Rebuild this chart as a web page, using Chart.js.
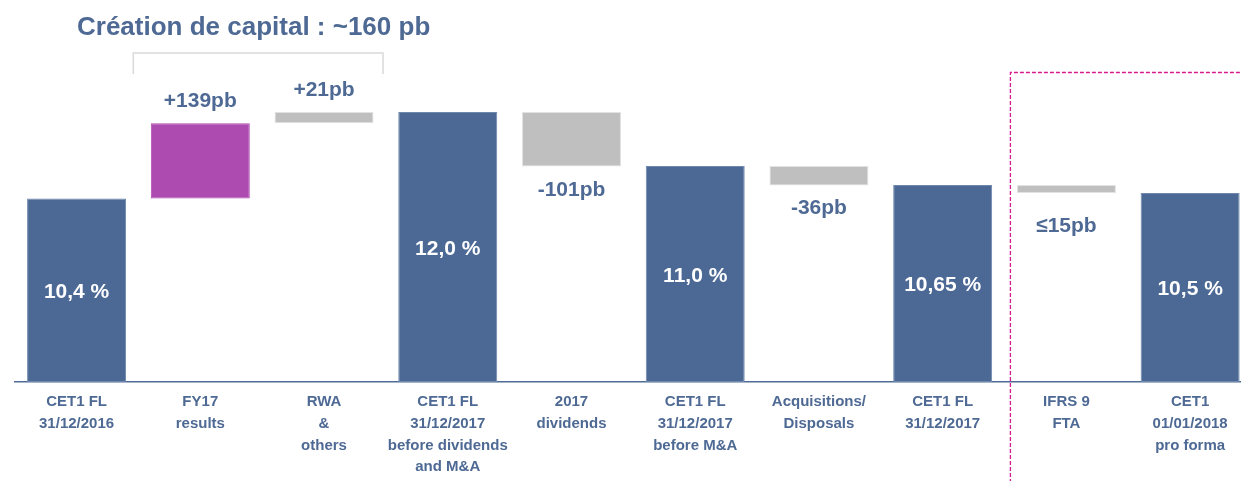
<!DOCTYPE html>
<html lang="fr">
<head>
<meta charset="utf-8">
<title>Création de capital</title>
<script src="https://cdn.jsdelivr.net/npm/chart.js@4.4.1/dist/chart.umd.min.js"></script>
<style>
  html, body { margin: 0; padding: 0; background: #ffffff; overflow: hidden; }
  #wrap { width: 1241px; height: 481px; overflow: hidden; position: relative; }
  canvas { display: block; }
</style>
</head>
<body>
<div id="wrap"><canvas id="chart" width="1252" height="481"></canvas></div>
<script>
// Step names of the CET1 bridge (one line per array entry)
const categories = [
  ['CET1 FL', '31/12/2016'],
  ['FY17', 'results'],
  ['RWA', '&', 'others'],
  ['CET1 FL', '31/12/2017', 'before dividends', 'and M&A'],
  ['2017', 'dividends'],
  ['CET1 FL', '31/12/2017', 'before M&A'],
  ['Acquisitions/', 'Disposals'],
  ['CET1 FL', '31/12/2017'],
  ['IFRS 9', 'FTA'],
  ['CET1', '01/01/2018', 'pro forma']
];

// Ratio levels (%) at each checkpoint; null where the step is a movement
const totalsPct = [10.4, null, null, 12.0, null, 11.0, null, 10.65, null, 10.5];

// Movements in basis points; null where the step is a checkpoint
const changesBp = [null, 139, 21, null, -101, null, -36, null, -15, null];

// Movements that are stated as an upper bound
const upperBoundSteps = [8];

const TITLE = 'Création de capital : ~160 pb';

// Waterfall ranges built from the values above
const ranges = [];
let level = 0;
categories.forEach((_, i) => {
  if (totalsPct[i] !== null) {
    level = totalsPct[i];
    ranges.push([7, level]);
  } else {
    const next = level + changesBp[i] / 100;
    ranges.push([level, next]);
    level = next;
  }
});

const BLUE = '#4C6995';
const PINK = '#AE4BB0';
const GREY = '#BFBFBF';
const TEXT = '#4E6A94';
const FONT = '"Liberation Sans", Arial, sans-serif';

const barColours = categories.map((_, i) =>
  totalsPct[i] !== null ? BLUE : (i === 1 ? PINK : GREY));
const barBorders = categories.map((_, i) =>
  totalsPct[i] !== null ? '#6E88AE' : (i === 1 ? PINK : '#E2E2E2'));

function bpLabel(i) {
  const v = changesBp[i];
  const mag = Math.abs(v);
  if (upperBoundSteps.includes(i)) return '\u2264' + mag + 'pb';
  return (v > 0 ? '+' : '-') + mag + 'pb';
}
function pctLabel(v) {
  return v.toLocaleString('fr-FR', { minimumFractionDigits: 1, maximumFractionDigits: 2 }) + ' %';
}

const decorations = {
  id: 'decorations',
  afterDatasetsDraw(chart) {
    const ctx = chart.ctx;
    const meta = chart.getDatasetMeta(0);
    const x = chart.scales.x;

    ctx.save();
    // title
    ctx.fillStyle = TEXT;
    ctx.font = 'bold 26px ' + FONT;
    ctx.textAlign = 'left';
    ctx.textBaseline = 'alphabetic';
    ctx.fillText(TITLE, 77, 35);

    // bracket grouping the capital-generating steps
    const bl = x.getPixelForValue(1) - 67;
    const br = x.getPixelForValue(2) + 59;
    ctx.strokeStyle = '#D9D9D9';
    ctx.lineWidth = 1.5;
    ctx.beginPath();
    ctx.moveTo(bl, 74);
    ctx.lineTo(bl, 53);
    ctx.lineTo(br, 53);
    ctx.lineTo(br, 74);
    ctx.stroke();

    // dashed frame around the IFRS 9 transition
    const fx = x.getPixelForValue(8) - 56;
    ctx.strokeStyle = '#D81B8C';
    ctx.lineWidth = 1.3;
    ctx.setLineDash([4, 2]);
    ctx.beginPath();
    ctx.moveTo(fx, chart.height + 2);
    ctx.lineTo(fx, 72.5);
    ctx.lineTo(chart.width + 2, 72.5);
    ctx.stroke();
    ctx.setLineDash([]);

    // value labels
    ctx.textAlign = 'center';
    ctx.font = 'bold 21px ' + FONT;
    meta.data.forEach((bar, i) => {
      const top = Math.min(bar.y, bar.base);
      const bottom = Math.max(bar.y, bar.base);
      if (totalsPct[i] !== null) {
        ctx.fillStyle = '#FFFFFF';
        ctx.textBaseline = 'middle';
        ctx.fillText(pctLabel(totalsPct[i]), bar.x, (top + bottom) / 2 + 2);
      } else {
        ctx.fillStyle = TEXT;
        ctx.textBaseline = 'alphabetic';
        if (changesBp[i] > 0) {
          ctx.fillText(bpLabel(i), bar.x, top - 16);
        } else {
          const gap = upperBoundSteps.includes(i) ? 39 : 29;
          ctx.fillText(bpLabel(i), bar.x, bottom + gap);
        }
      }
    });
    ctx.restore();
  }
};

new Chart(document.getElementById('chart'), {
  type: 'bar',
  data: {
    labels: categories,
    datasets: [{
      data: ranges,
      backgroundColor: barColours,
      borderColor: barBorders,
      borderWidth: 1,
      borderSkipped: false,
      categoryPercentage: 0.8,
      barPercentage: 1.0
    }]
  },
  options: {
    responsive: false,
    animation: false,
    devicePixelRatio: 1,
    layout: { padding: { left: 14.7, right: 0, top: 58, bottom: 0 } },
    plugins: {
      legend: { display: false },
      title: { display: false },
      tooltip: { enabled: false }
    },
    scales: {
      x: {
        offset: true,
        grid: { display: false, drawTicks: false },
        border: { display: true, color: '#4F6B96', width: 1.5 },
        ticks: {
          color: TEXT,
          padding: 9,
          maxRotation: 0,
          autoSkip: false,
          font: { family: FONT, size: 15, weight: 'bold', lineHeight: 1.45 }
        },
        afterFit(scale) { scale.height = 99; }
      },
      y: {
        display: false,
        min: 7,
        max: 13
      }
    }
  },
  plugins: [decorations]
});
</script>
</body>
</html>
